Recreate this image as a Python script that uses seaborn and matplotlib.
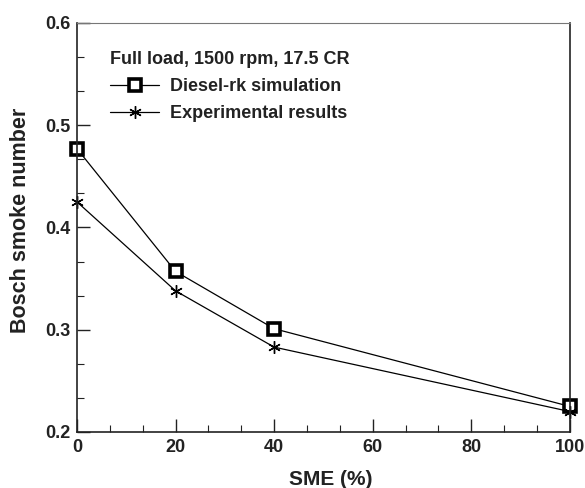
import matplotlib
matplotlib.use("Agg")
import matplotlib.pyplot as plt
import seaborn as sns
import pandas as pd
from matplotlib.ticker import AutoMinorLocator
from matplotlib.lines import Line2D

sme = [0, 20, 40, 100]
sim_vals = [0.477, 0.357, 0.301, 0.225]
exp_vals = [0.425, 0.338, 0.283, 0.220]
series_names = ["Diesel-rk simulation", "Experimental results"]
legend_title = "Full load, 1500 rpm, 17.5 CR"
x_ticks = [0, 20, 40, 60, 80, 100]
y_ticks = [0.2, 0.3, 0.4, 0.5, 0.6]

df_sim = pd.DataFrame({"SME": sme, "BSN": sim_vals})
df_exp = pd.DataFrame({"SME": sme, "BSN": exp_vals})

sns.set_style("ticks")
plt.rcParams["font.family"] = ["Liberation Sans", "DejaVu Sans"]
plt.rcParams["font.weight"] = "bold"

fig = plt.figure(figsize=(5.85, 4.88), dpi=100)
ax = fig.add_axes([0.1316, 0.1148, 0.8424, 0.8382])

sim_style = dict(color="black", linewidth=0.9, marker="s", markersize=8.5,
                 markerfacecolor="white", markeredgecolor="black", markeredgewidth=2.6)
exp_style = dict(color="black", linewidth=0.9, marker=(6, 2, 0), markersize=9,
                 markeredgewidth=1.0, markeredgecolor="black")

sns.lineplot(data=df_sim, x="SME", y="BSN", ax=ax, legend=False, **sim_style)
sns.lineplot(data=df_exp, x="SME", y="BSN", ax=ax, legend=False, **exp_style)
for l in ax.get_lines():
    l.set_clip_on(False)

ax.set_xlim(0, 100)
ax.set_ylim(0.2, 0.6)
ax.xaxis.set_minor_locator(AutoMinorLocator(3))
ax.yaxis.set_minor_locator(AutoMinorLocator(3))
ax.tick_params(which="major", direction="in", length=9.5, width=1.0, colors="#222222",
               labelsize=13, top=False, right=False, pad=5)
ax.tick_params(which="minor", direction="in", length=5, width=0.8, colors="#222222",
               top=False, right=False)
ax.set_xticks(x_ticks)
ax.set_xticklabels([str(v) for v in x_ticks], fontweight="bold", color="#222222")
ax.set_yticks(y_ticks)
ax.set_yticklabels([f"{v:.1f}" for v in y_ticks], fontweight="bold", color="#222222")
for s in ax.spines.values():
    s.set_visible(True)
    s.set_linewidth(1.2)
    s.set_color("#222222")
ax.spines["top"].set_linewidth(0.8)
ax.spines["top"].set_color("#777777")

ax.set_xlabel("SME (%)", fontsize=15, fontweight="bold", color="#222222")
ax.set_ylabel("Bosch smoke number", fontsize=15.5, fontweight="bold", color="#222222")
ax.xaxis.set_label_coords(0.515, -0.093)
ax.yaxis.set_label_coords(-0.094, 0.518)

handles = [Line2D([], [], **sim_style), Line2D([], [], **exp_style)]
leg = ax.legend(handles, series_names, title=legend_title, loc="upper left",
                bbox_to_anchor=(0.035, 0.97), frameon=False, handlelength=2.7,
                handletextpad=0.6, labelspacing=0.55,
                prop={"weight": "bold", "size": 13},
                title_fontproperties={"weight": "bold", "size": 13})
leg._legend_box.align = "left"
for t in leg.get_texts():
    t.set_color("#222222")
leg.get_title().set_color("#222222")

fig.savefig("out.png", dpi=100)
